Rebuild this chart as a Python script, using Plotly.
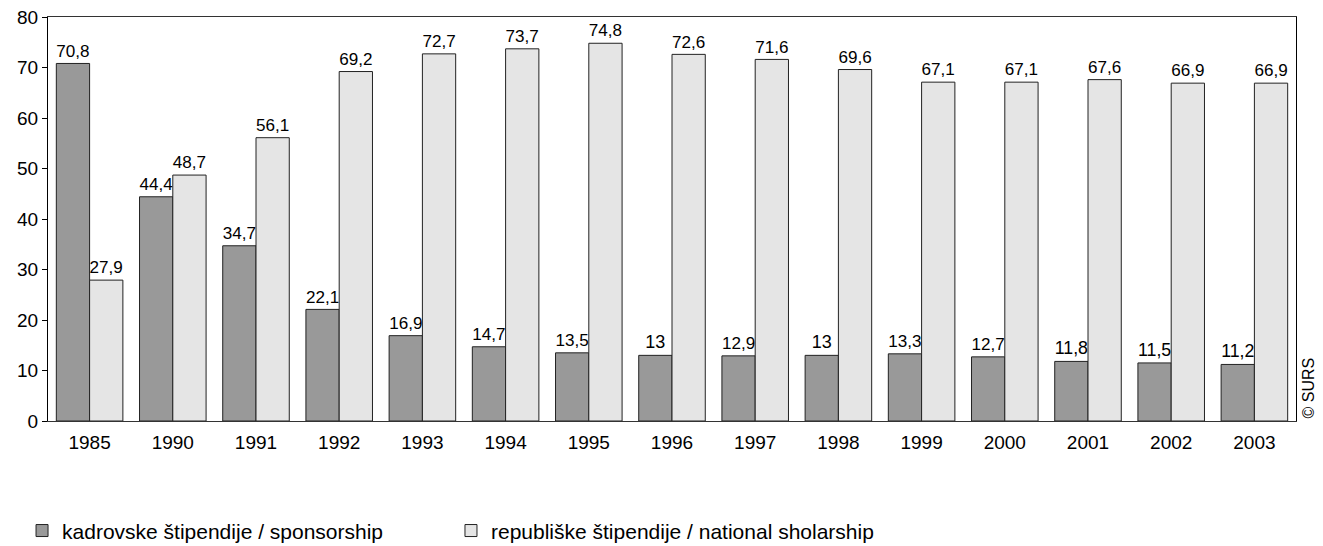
import plotly.graph_objects as go

years = ["1985", "1990", "1991", "1992", "1993", "1994", "1995", "1996", "1997", "1998",
         "1999", "2000", "2001", "2002", "2003"]
sponsorship = [70.8, 44.4, 34.7, 22.1, 16.9, 14.7, 13.5, 13, 12.9, 13, 13.3, 12.7, 11.8, 11.5, 11.2]
national = [27.9, 48.7, 56.1, 69.2, 72.7, 73.7, 74.8, 72.6, 71.6, 69.6, 67.1, 67.1, 67.6, 66.9, 66.9]
name_sp = "kadrovske štipendije / sponsorship"
name_nat = "republiške štipendije / national sholarship"

def fmt(v):
    return ("%g" % v).replace(".", ",")

font = dict(family="Liberation Sans, Arial, sans-serif", color="#000000")

fig = go.Figure()
fig.add_trace(go.Bar(x=years, y=sponsorship, name=name_sp, legend="legend",
                     marker=dict(color="#999999", line=dict(color="#222222", width=1)),
                     text=[fmt(v) for v in sponsorship], textposition="outside",
                     textfont=dict(size=18, **font), cliponaxis=False))
fig.add_trace(go.Bar(x=years, y=national, name=name_nat, legend="legend2",
                     marker=dict(color="#e5e5e5", line=dict(color="#222222", width=1)),
                     text=[fmt(v) for v in national], textposition="outside",
                     textfont=dict(size=18, **font), cliponaxis=False))

legend_common = dict(orientation="h", y=-0.272, yanchor="middle",
                     font=dict(size=21, **font), itemwidth=30, bgcolor="rgba(0,0,0,0)")

# page body has an 8px margin, so the figure is sized/offset to compensate
fig.update_layout(
    width=1315, height=538,
    margin=dict(l=40, r=27, t=9, b=125, autoexpand=False),
    paper_bgcolor="white", plot_bgcolor="white",
    barmode="group", bargap=0.2, bargroupgap=0,
    font=dict(size=19, **font),
    showlegend=True,
    legend=dict(x=-0.0208, xanchor="left", **legend_common),
    legend2=dict(x=0.3229, xanchor="left", **legend_common),
)
fig.update_yaxes(range=[0, 80], dtick=10, showgrid=False, zeroline=False,
                 showline=True, linecolor="#000000", linewidth=1, mirror=True,
                 ticks="outside", ticklen=5, tickcolor="#000000", automargin=False,
                 ticklabeloverflow="allow", tickfont=dict(size=19, **font))
fig.update_xaxes(showgrid=False, showline=True, linecolor="#333333", linewidth=1,
                 mirror=True, ticks="outside", ticklen=4, tickcolor="rgba(0,0,0,0)",
                 automargin=False, tickfont=dict(size=19, **font))

fig.add_annotation(text="© SURS", x=1.0, xref="paper", xanchor="center", xshift=12,
                   y=0, yref="paper", yanchor="bottom", textangle=-90, showarrow=False,
                   font=dict(size=16, **font))

fig.write_html("out.html")
